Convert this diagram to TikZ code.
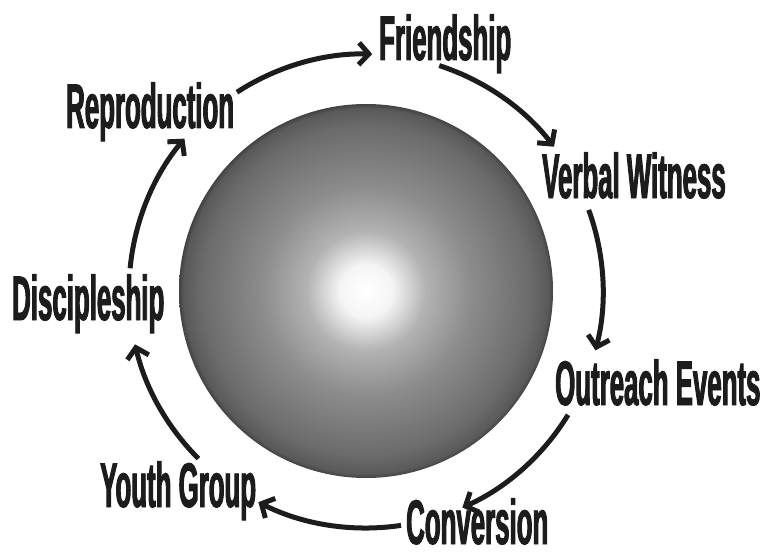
\documentclass[tikz,border=0pt]{standalone}
\usepackage{fontspec}
\usepackage{tikz}
\usetikzlibrary{arrows.meta,positioning}
\newfontfamily\cyclefont[FakeStretch=0.41,FakeBold=1.5]{Liberation Sans}
\definecolor{cycink}{HTML}{1C1C1C}
\pgfdeclareradialshading{globeshade}{\pgfpoint{0bp}{0bp}}{%
  color(0bp)=(white); color(3.5bp)=(white!96!black); color(8bp)=(black!30);
  color(14bp)=(black!45); color(22bp)=(black!58); color(24.4bp)=(black!65);
  color(25bp)=(black!74); color(50bp)=(black!74)}
\tikzset{
  step label/.style={inner sep=0pt,anchor=base west,text=cycink,font=\cyclefont\bfseries\fontsize{63}{63}\selectfont},
  globe/.style={circle,minimum size=374pt,inner sep=0pt,shading=globeshade},
  cyc/.style={-{Straight Barb[length=10pt,width=22pt]},draw=cycink,line width=5pt},
}
\begin{document}
\begin{tikzpicture}[x=1pt,y=1pt]
    \useasboundingbox (0,0) rectangle (762,558);
    \node[globe] (globe) at (366,267) {};
    \node[step label] (fri) at (379,498) {Friendship};
    \node[step label] (vw) at (542,360) {Verbal Witness};
    \node[step label] (oe) at (555,153) {Outreach Events};
    \node[step label] (con) at (406,14) {Conversion};
    \node[step label] (yg) at (100,51) {Youth Group};
    \node[step label] (dis) at (12,238) {Discipleship};
    \node[step label] (rep) at (66,430) {Reproduction};
    % ring of arrows round the globe
    \draw[cyc] (globe.center) ++(123:237) arc[start angle=123,end angle=88.5,radius=237];
    \draw[cyc] (globe.center) ++(72:237) arc[start angle=72,end angle=37.5,radius=237];
    \draw[cyc] (globe.center) ++(20:237) arc[start angle=20,end angle=-14.5,radius=237];
    \draw[cyc] (globe.center) ++(-31.5:237) arc[start angle=-31.5,end angle=-66,radius=237];
    \draw[cyc] (globe.center) ++(-81.5:237) arc[start angle=-81.5,end angle=-117,radius=237];
    \draw[cyc] (globe.center) ++(-135:237) arc[start angle=-135,end angle=-167,radius=237];
    \draw[cyc] (globe.center) ++(174.5:237) arc[start angle=174.5,end angle=140,radius=237];
  \end{tikzpicture}
\end{document}
